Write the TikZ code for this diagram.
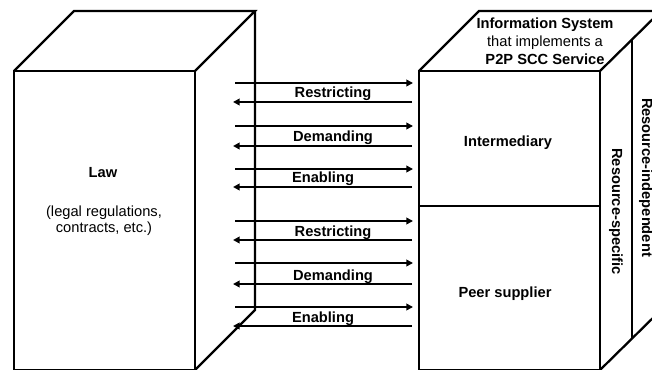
\documentclass[tikz,border=0pt]{standalone}
\usepackage{fontspec}
\setmainfont{Liberation Sans}
\usetikzlibrary{arrows.meta}
\begin{document}
\begin{tikzpicture}[x=0.75pt,y=-0.75pt,
  edge/.style={line width=1.7pt, line join=miter},
  flow/.style={line width=1.6pt,-{Triangle[length=5pt,width=5pt]}},
  bold/.style={font=\fontsize{11}{13}\selectfont\bfseries, inner sep=0pt, anchor=base},
  plain/.style={font=\fontsize{11}{13}\selectfont, inner sep=0pt, anchor=base}]
\useasboundingbox (0,0) rectangle (652,370);
\clip (0,0) rectangle (652,370);
% ---- left box (Law)
\draw[edge] (14,71) rectangle (195,370);
\draw[edge] (14,71) -- (74,11) -- (255,11) -- (195,71);
\draw[edge] (255,11) -- (255,310) -- (195,370);
\node[bold]  (law)  at (103,178) {Law};
\node[plain] (law2) at (104,216) {(legal regulations,};
\node[plain] (law3) at (104,233) {contracts, etc.)};
% ---- right box (Information System)
\draw[edge] (419,71) rectangle (600,370);
\draw[edge] (419,71) -- (479,11) -- (661,11) -- (600,71);
\draw[edge] (661,11) -- (661,310) -- (600,370);
\draw[edge] (632,40) -- (632,339);
\draw[edge] (419,206) -- (600,206);
\node[bold]  (is1) at (545,29) {Information System};
\node[plain] (is2) at (545,47) {that implements a};
\node[bold]  (is3) at (545,65) {P2P SCC Service};
\node[bold]  (inter) at (508,147) {Intermediary};
\node[bold]  (peer)  at (505,297) {Peer supplier};
\node[bold, anchor=center, rotate=-90] (rs) at (616,211.5) {Resource-specific};
\node[bold, anchor=center, rotate=-90] (ri) at (646,177.5) {Resource-independent};
% ---- arrows
\foreach \i/\ya/\yb/\lab/\lx in {1/83/102/Restricting/333, 2/126/146/Demanding/333, 3/169/187/Enabling/323,
                               4/221/240/Restricting/333, 5/263/284/Demanding/333, 6/307/326/Enabling/323}{
  \coordinate (ra\i) at (235,\ya);
  \coordinate (rb\i) at (413,\ya);
  \coordinate (la\i) at (412,\yb);
  \coordinate (lb\i) at (233,\yb);
  \draw[flow] (ra\i) -- (rb\i);
  \draw[flow] (la\i) -- (lb\i);
  \node[bold] (lab\i) at (\lx,\yb-4) {\lab};
}
\end{tikzpicture}
\end{document}
